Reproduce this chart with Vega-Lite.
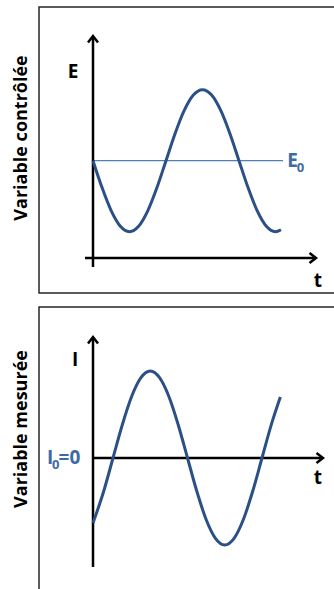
{
  "$schema": "https://vega.github.io/schema/vega-lite/v6.json",
  "padding": 0,
  "background": "white",
  "spacing": 0,
  "config": {"view": {"stroke": null}, "text": {"font": "Open Sans"}},
  "datasets": {
    "curve1": [
      {"t": 0, "v": 0}, {"t": 0.25, "v": -0.3827}, {"t": 0.5, "v": -0.7071}, {"t": 0.75, "v": -0.9239},
      {"t": 1, "v": -1}, {"t": 1.25, "v": -0.9239}, {"t": 1.5, "v": -0.7071}, {"t": 1.75, "v": -0.3827},
      {"t": 2, "v": 0}, {"t": 2.25, "v": 0.3827}, {"t": 2.5, "v": 0.7071}, {"t": 2.75, "v": 0.9239},
      {"t": 3, "v": 1}, {"t": 3.25, "v": 0.9239}, {"t": 3.5, "v": 0.7071}, {"t": 3.75, "v": 0.3827},
      {"t": 4, "v": 0}, {"t": 4.25, "v": -0.3827}, {"t": 4.5, "v": -0.7071}, {"t": 4.75, "v": -0.9239},
      {"t": 5, "v": -1}, {"t": 5.15, "v": -0.972}
    ],
    "curve2": [
      {"t": 0, "v": -0.747}, {"t": 0.287, "v": -0.3827}, {"t": 0.537, "v": 0}, {"t": 0.787, "v": 0.3827},
      {"t": 1.037, "v": 0.7071}, {"t": 1.287, "v": 0.9239}, {"t": 1.537, "v": 1}, {"t": 1.787, "v": 0.9239},
      {"t": 2.037, "v": 0.7071}, {"t": 2.287, "v": 0.3827}, {"t": 2.537, "v": 0}, {"t": 2.787, "v": -0.3827},
      {"t": 3.037, "v": -0.7071}, {"t": 3.287, "v": -0.9239}, {"t": 3.537, "v": -1}, {"t": 3.787, "v": -0.9239},
      {"t": 4.037, "v": -0.7071}, {"t": 4.287, "v": -0.3827}, {"t": 4.537, "v": 0}, {"t": 4.787, "v": 0.3827},
      {"t": 5.03, "v": 0.7}
    ]
  },
  "vconcat": [
    {
      "width": 334,
      "height": 300,
      "encoding": {
        "x": {"field": "t", "type": "quantitative", "scale": {"domain": [-2.548, 6.603], "nice": false, "zero": false}, "axis": null},
        "y": {"field": "v", "type": "quantitative", "scale": {"domain": [-1.962, 2.263], "nice": false, "zero": false}, "axis": null}
      },
      "layer": [
        {
          "data": {"values": [{"t": -1.479, "t2": 10, "v": 2.165, "v2": -1.863}]},
          "mark": {"type": "rect", "fillOpacity": 0, "stroke": "#262626", "strokeWidth": 1.5, "clip": true},
          "encoding": {"x2": {"field": "t2"}, "y2": {"field": "v2"}}
        },
        {
          "data": {"values": [{"t": 0, "t2": 5.205, "v": 0}]},
          "mark": {"type": "rule", "color": "#4f7fb8", "strokeWidth": 1.3},
          "encoding": {"x2": {"field": "t2"}}
        },
        {
          "data": {"values": [{"t": 0, "v": -1.497, "v2": 1.742}]},
          "mark": {"type": "rule", "color": "black", "strokeWidth": 2.5},
          "encoding": {"y2": {"field": "v2"}}
        },
        {
          "data": {"values": [{"t": -0.219, "t2": 6.11, "v": -1.37}]},
          "mark": {"type": "rule", "color": "black", "strokeWidth": 2.5},
          "encoding": {"x2": {"field": "t2"}}
        },
        {
          "data": {"values": [{"t": 0, "v": 1.756}]},
          "mark": {"type": "point", "shape": "M-1,1.3L0,0L1,1.3", "filled": false, "size": 100, "strokeWidth": 2.5, "color": "black", "opacity": 1, "angle": 0}
        },
        {
          "data": {"values": [{"t": 6.11, "v": -1.37}]},
          "mark": {"type": "point", "shape": "M-1,1.3L0,0L1,1.3", "filled": false, "size": 100, "strokeWidth": 2.5, "color": "black", "opacity": 1, "angle": 90}
        },
        {
          "data": {"name": "curve1"},
          "mark": {"type": "line", "interpolate": "monotone", "color": "#2b5086", "strokeWidth": 3}
        },
        {
          "data": {"values": [{"t": -0.548, "v": 1.249, "label": "E"}, {"t": 6.164, "v": -1.694, "label": "t"}]},
          "mark": {"type": "text", "fontWeight": "bold", "fontSize": 19, "color": "black", "align": "center", "baseline": "middle"},
          "encoding": {"text": {"field": "label"}}
        },
        {
          "data": {"values": [{"t": 5.466, "v": 0, "label": "E"}]},
          "mark": {"type": "text", "fontWeight": "bold", "fontSize": 19, "color": "#3e6aa6", "align": "center", "baseline": "middle"},
          "encoding": {"text": {"field": "label"}}
        },
        {
          "data": {"values": [{"t": 5.685, "v": -0.11, "label": "0"}]},
          "mark": {"type": "text", "fontWeight": "bold", "fontSize": 13, "color": "#3e6aa6", "align": "center", "baseline": "middle"},
          "encoding": {"text": {"field": "label"}}
        },
        {
          "data": {"values": [{"t": -1.945, "v": 0.32, "label": "Variable contrôlée"}]},
          "mark": {"type": "text", "fontWeight": "bold", "fontSize": 18, "color": "black", "align": "center", "baseline": "middle", "angle": 270},
          "encoding": {"text": {"field": "label"}}
        }
      ]
    },
    {
      "width": 334,
      "height": 289,
      "encoding": {
        "x": {"field": "t", "type": "quantitative", "scale": {"domain": [-2.497, 6.47], "nice": false, "zero": false}, "axis": null},
        "y": {"field": "v", "type": "quantitative", "scale": {"domain": [-1.506, 1.816], "nice": false, "zero": false}, "axis": null}
      },
      "layer": [
        {
          "data": {"values": [{"t": -1.45, "t2": 10, "v": 1.736, "v2": -5}]},
          "mark": {"type": "rect", "fillOpacity": 0, "stroke": "#262626", "strokeWidth": 1.5, "clip": true},
          "encoding": {"x2": {"field": "t2"}, "y2": {"field": "v2"}}
        },
        {
          "data": {"values": [{"t": 0, "v": -1.253, "v2": 1.391}]},
          "mark": {"type": "rule", "color": "black", "strokeWidth": 2.5},
          "encoding": {"y2": {"field": "v2"}}
        },
        {
          "data": {"values": [{"t": 0, "t2": 6.174, "v": 0}]},
          "mark": {"type": "rule", "color": "black", "strokeWidth": 2.5},
          "encoding": {"x2": {"field": "t2"}}
        },
        {
          "data": {"values": [{"t": 0, "v": 1.391}]},
          "mark": {"type": "point", "shape": "M-1,1.3L0,0L1,1.3", "filled": false, "size": 100, "strokeWidth": 2.5, "color": "black", "opacity": 1, "angle": 0}
        },
        {
          "data": {"values": [{"t": 6.174, "v": 0}]},
          "mark": {"type": "point", "shape": "M-1,1.3L0,0L1,1.3", "filled": false, "size": 100, "strokeWidth": 2.5, "color": "black", "opacity": 1, "angle": 90}
        },
        {
          "data": {"name": "curve2"},
          "mark": {"type": "line", "interpolate": "monotone", "color": "#2b5086", "strokeWidth": 3}
        },
        {
          "data": {"values": [{"t": -0.483, "v": 1.126, "label": "I"}, {"t": 6.04, "v": -0.23, "label": "t"}]},
          "mark": {"type": "text", "fontWeight": "bold", "fontSize": 19, "color": "black", "align": "center", "baseline": "middle"},
          "encoding": {"text": {"field": "label"}}
        },
        {
          "data": {"values": [{"t": -1.235, "v": 0, "label": "I"}, {"t": -0.926, "v": 0, "label": "=0"}]},
          "mark": {"type": "text", "fontWeight": "bold", "fontSize": 19, "color": "#3e6aa6", "align": "left", "baseline": "middle"},
          "encoding": {"text": {"field": "label"}}
        },
        {
          "data": {"values": [{"t": -1.101, "v": -0.085, "label": "0"}]},
          "mark": {"type": "text", "fontWeight": "bold", "fontSize": 13, "color": "#3e6aa6", "align": "left", "baseline": "middle"},
          "encoding": {"text": {"field": "label"}}
        },
        {
          "data": {"values": [{"t": -1.906, "v": 0.333, "label": "Variable mesurée"}]},
          "mark": {"type": "text", "fontWeight": "bold", "fontSize": 18, "color": "black", "align": "center", "baseline": "middle", "angle": 270},
          "encoding": {"text": {"field": "label"}}
        }
      ]
    }
  ]
}
